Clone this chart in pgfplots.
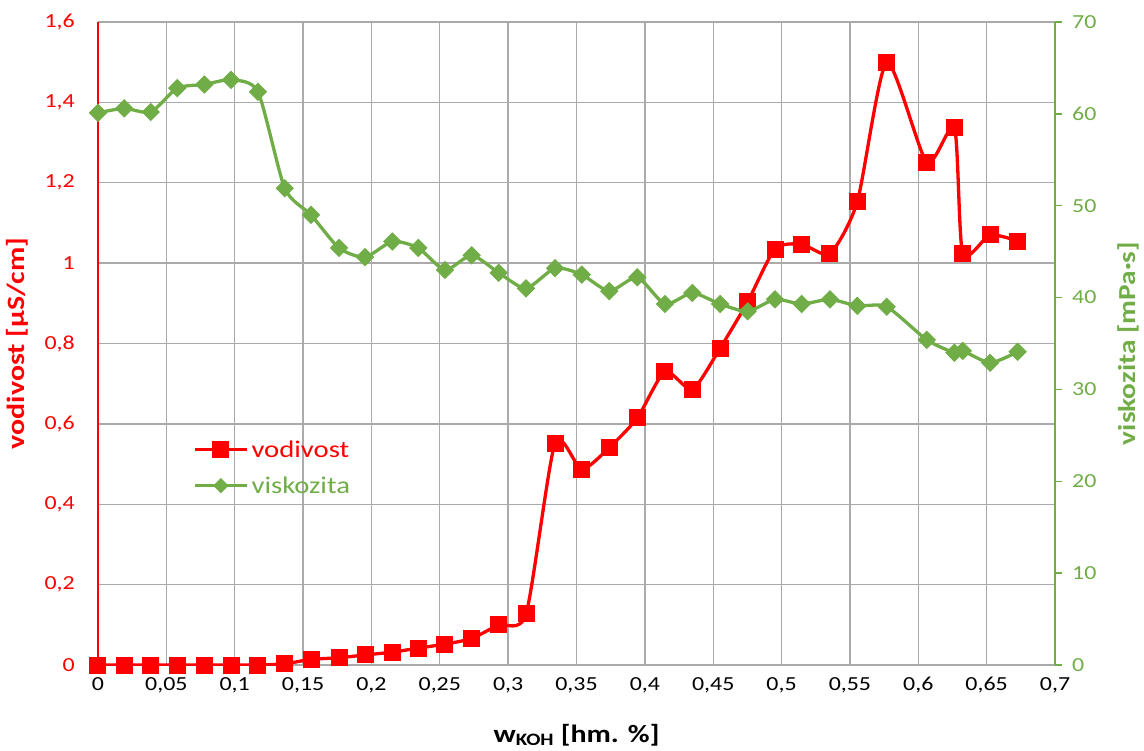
\documentclass[border=0pt]{standalone}
\usepackage{fontspec}
\setmainfont{Carlito}[FakeStretch=1.2]
\usepackage{pgfplots}
\pgfplotsset{compat=1.18}
\definecolor{xred}{RGB}{255,0,0}
\definecolor{xgreen}{RGB}{112,173,71}
\definecolor{gridgray}{RGB}{170,170,170}
\begin{document}
\begin{tikzpicture}
\begin{axis}[
  name=ax,
  scale only axis, width=957bp, height=643bp,
  xmin=0, xmax=0.7, ymin=0, ymax=1.6,
  axis y line*=left, axis x line*=bottom,
  xtick={0,0.05,0.1,0.15,0.2,0.25,0.3,0.35,0.4,0.45,0.5,0.55,0.6,0.65,0.7},
  xticklabels={0,{0,05},{0,1},{0,15},{0,2},{0,25},{0,3},{0,35},{0,4},{0,45},{0,5},{0,55},{0,6},{0,65},{0,7}},
  ytick={0,0.2,0.4,0.6,0.8,1,1.2,1.4,1.6},
  yticklabels={0,{0,2},{0,4},{0,6},{0,8},1,{1,2},{1,4},{1,6}},
  grid=major, major grid style={color=gridgray, line width=1.3bp},
  x axis line style={gridgray, line width=1.3bp},
  y axis line style={xred, line width=1.2bp},
  major tick length=0pt,
  xticklabel style={font=\fontsize{20}{24}\selectfont, text=black, anchor=north, inner sep=0pt, yshift=-12bp},
  yticklabel style={font=\fontsize{20}{24}\selectfont, text=xred, anchor=east, inner sep=0pt, xshift=-23bp},
  xlabel={\textbf{w\textsubscript{KOH} [hm. \%]}},
  ylabel={\textbf{vodivost [µS/cm]}},
  every axis x label/.style={at={(rel axis cs:0.5,-0.1089)}, anchor=center, font=\fontsize{25}{30}\selectfont, text=black},
  every axis y label/.style={at={(rel axis cs:-0.0846,0.5)}, anchor=center, rotate=90, font=\fontsize{25}{30}\selectfont, text=xred},
  legend style={draw=none, fill=none, at={(rel axis cs:0.0993,0.307)}, anchor=west, inner sep=0pt, row sep=18bp, font=\fontsize{24}{28}\selectfont, nodes={inner xsep=3bp, inner ysep=0pt}},
  legend cell align=left,
  legend image code/.code={\draw[mark repeat=2,mark phase=2,#1] plot coordinates {(0bp,0bp)(26bp,0bp)(52bp,0bp)};},
]
\addplot[xred, line width=3.3bp, smooth, tension=0.4, mark=square*, mark size=8bp, mark options={line width=1bp, solid}] coordinates {
(0,0)(0.0192,0)(0.0386,0)(0.058,0)(0.0778,0)(0.0973,0)(0.117,0)(0.1366,0.003)(0.1558,0.014)(0.1763,0.018)(0.1953,0.025)(0.2153,0.032)(0.2343,0.042)(0.2538,0.052)(0.2733,0.066)(0.2931,0.100)(0.3131,0.127)(0.3343,0.552)(0.3538,0.487)(0.374,0.541)(0.3945,0.615)(0.4147,0.730)(0.4347,0.686)(0.455,0.788)(0.4752,0.904)(0.4952,1.035)(0.5147,1.047)(0.5354,1.024)(0.5554,1.153)(0.5769,1.499)(0.6062,1.251)(0.6264,1.337)(0.6325,1.024)(0.6525,1.070)(0.6727,1.055)};
\addlegendentry{\textcolor{xred}{vodivost}}
\addlegendimage{xgreen, line width=3.3bp, mark=diamond*, mark size=7bp, mark options={line width=1bp, solid, xscale=1.333}}
\addlegendentry{\textcolor{xgreen}{viskozita}}
\end{axis}
\begin{axis}[
  scale only axis, width=957bp, height=643bp,
  xmin=0, xmax=0.7, ymin=0, ymax=70,
  axis y line*=right, axis x line=none,
  ytick={0,10,20,30,40,50,60,70},
  yticklabels={0,10,20,30,40,50,60,70},
  y axis line style={xgreen, line width=1.5bp},
  ytick style={xgreen, line width=1.3bp},
  major tick length=7bp, tick align=outside,
  yticklabel style={font=\fontsize{20}{24}\selectfont, text=xgreen, anchor=west, inner sep=0pt, xshift=10bp},
  ylabel={\textbf{viskozita [mPa·s]}},
  every axis y label/.style={at={(rel axis cs:1.0765,0.5)}, anchor=center, rotate=90, font=\fontsize{24.5}{29}\selectfont, text=xgreen},
]
\addplot[xgreen, line width=3.3bp, smooth, tension=0.4, mark=diamond*, mark size=8.5bp, mark options={line width=1bp, solid, xscale=1.333}] coordinates {
(0,60.1)(0.0192,60.6)(0.0386,60.2)(0.058,62.8)(0.0778,63.2)(0.0973,63.7)(0.117,62.4)(0.1366,51.9)(0.1558,49.0)(0.1763,45.4)(0.1953,44.4)(0.2153,46.1)(0.2343,45.4)(0.2538,43.0)(0.2733,44.6)(0.2931,42.7)(0.3131,41.0)(0.3343,43.2)(0.3538,42.5)(0.374,40.7)(0.3945,42.2)(0.4147,39.3)(0.4347,40.5)(0.455,39.3)(0.4752,38.5)(0.4952,39.8)(0.5147,39.3)(0.5354,39.8)(0.5554,39.1)(0.5769,39.0)(0.6062,35.4)(0.6264,34.0)(0.6325,34.2)(0.6525,32.9)(0.6727,34.1)};
\end{axis}
\pgfresetboundingbox
\path[use as bounding box] ([xshift=-98bp,yshift=-86bp]ax.south west) rectangle ([xshift=89bp,yshift=22bp]ax.north east);
\end{tikzpicture}
\end{document}
